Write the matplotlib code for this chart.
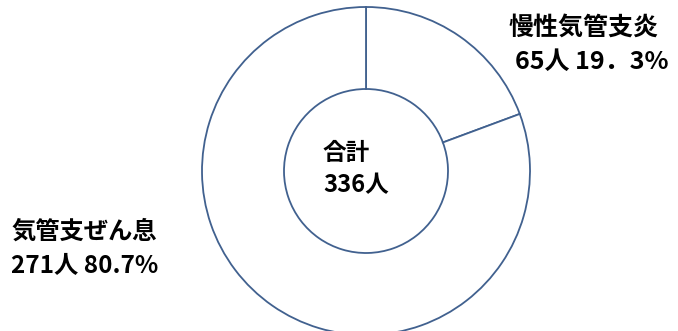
import matplotlib
matplotlib.use("Agg")
import matplotlib.pyplot as plt

plt.rcParams['font.family'] = ['Noto Sans CJK JP', 'DejaVu Sans']

# data
categories = ["慢性気管支炎", "気管支ぜん息"]
counts = [65, 271]
count_labels = ["65人 19．3%", "271人 80.7%"]
total_label = ["合計", "336人"]

EDGE = "#41618F"
W, H = 678, 331
fig = plt.figure(figsize=(W / 100, H / 100), dpi=100)
ax = fig.add_axes([0, 0, 1, 1])

cx, cy, R = 366, H - 171, 164
ax.pie(counts, startangle=90, counterclock=False, center=(cx, cy), radius=R,
       colors=["white", "white"],
       wedgeprops=dict(width=R * 0.5, edgecolor=EDGE, linewidth=1.3))
ax.set_xlim(0, W)
ax.set_ylim(0, H)
ax.set_aspect("equal")
ax.axis("off")

# right label
ax.text(509, H - 28, categories[0], ha="left", va="center", fontsize=18, fontweight="bold")
ax.text(515, H - 62, count_labels[0], ha="left", va="center", fontsize=18, fontweight="bold")
# left label
ax.text(11, H - 232, categories[1], ha="left", va="center", fontsize=17.5, fontweight="bold")
ax.text(11, H - 266, count_labels[1], ha="left", va="center", fontsize=17.5, fontweight="bold")
# center
ax.text(323, H - 153, total_label[0], ha="left", va="center", fontsize=17, fontweight="bold")
ax.text(323, H - 185, total_label[1], ha="left", va="center", fontsize=17, fontweight="bold")

fig.savefig("out.png", dpi=100)
